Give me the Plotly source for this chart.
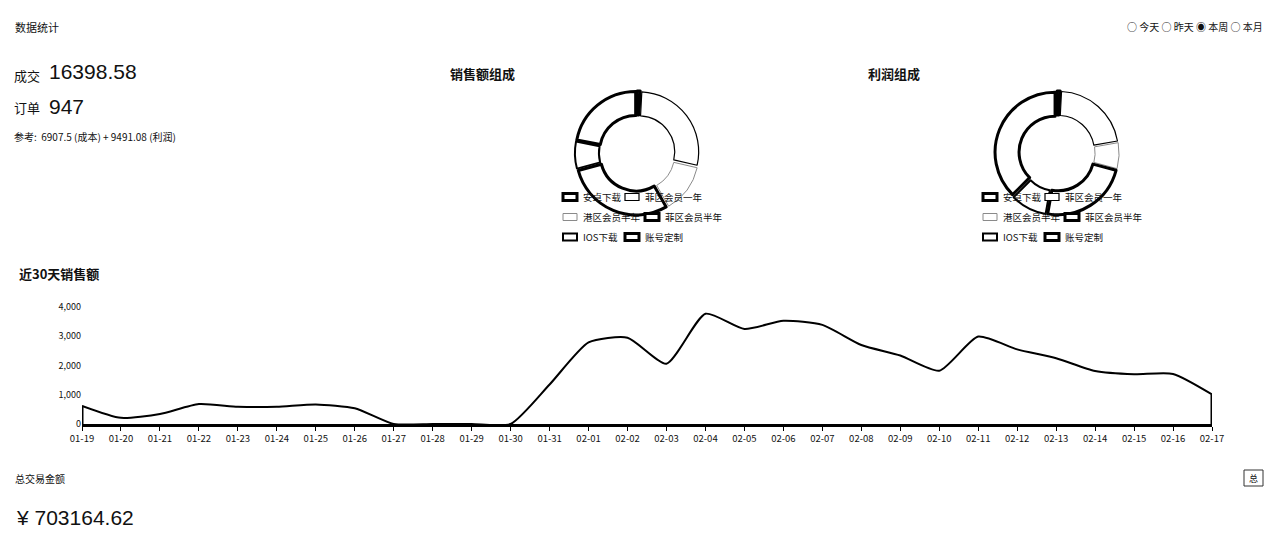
import plotly.graph_objects as go

W, H = 1280, 559

# ---------------- data ----------------
dates = ["01-19", "01-20", "01-21", "01-22", "01-23", "01-24", "01-25", "01-26", "01-27", "01-28",
         "01-29", "01-30", "01-31", "02-01", "02-02", "02-03", "02-04", "02-05", "02-06", "02-07",
         "02-08", "02-09", "02-10", "02-11", "02-12", "02-13", "02-14", "02-15", "02-16", "02-17"]
sales = [620, 210, 340, 680, 590, 590, 670, 540, 0, 0,
         0, 0, 1350, 2790, 2950, 2060, 3770, 3250, 3530, 3390,
         2700, 2340, 1820, 2990, 2550, 2250, 1810, 1700, 1710, 1010]
ytick_vals = [0, 1000, 2000, 3000, 4000]

pie_labels = ["安卓下载", "菲区会员一年", "港区会员半年", "菲区会员半年", "IOS下载", "账号定制"]
sales_parts = [137, 4555, 2141, 4783, 1184, 3598.58]
profit_parts = [79, 2030, 659, 2241, 923, 3559.08]

stat_total = "16398.58"
stat_orders = "947"
stat_ref = "参考:  6907.5 (成本) + 9491.08 (利润)"
grand_total = "¥ 703164.62"

FONT = "Noto Sans CJK SC"
NUMFONT = "Liberation Sans, Arial, sans-serif"


def px(x):
    return x / W


def py(y):
    return 1 - y / H


fig = go.Figure()

# ---------------- line chart ----------------
fig.add_trace(go.Scatter(
    x=dates, y=sales, mode="lines",
    line=dict(color="black", width=2, shape="spline", smoothing=0.6),
    fill="tozeroy", fillcolor="white",
    xaxis="x", yaxis="y", showlegend=False, hoverinfo="x+y"))
# vertical edges of the area at both ends
fig.add_trace(go.Scatter(
    x=[dates[0], dates[0], None, dates[-1], dates[-1]],
    y=[0, sales[0], None, sales[-1], 0],
    mode="lines", line=dict(color="black", width=3),
    xaxis="x", yaxis="y", showlegend=False, hoverinfo="skip"))

# ---------------- donuts ----------------
line_colors = ["black", "black", "#8a8a8a", "black", "black", "black"]
line_widths = [3, 1.2, 1, 3, 2, 3]
PULL = 0.035
R = 60 * (1 + PULL)

for vals, cx, nm in ((sales_parts, 637, "销售额组成"), (profit_parts, 1057, "利润组成")):
    fig.add_trace(go.Pie(
        labels=pie_labels, values=vals, hole=0.6, sort=False,
        direction="clockwise", rotation=0, textinfo="none", pull=[PULL] * 6,
        marker=dict(colors=["white"] * 6, line=dict(color=line_colors, width=line_widths)),
        domain=dict(x=[px(cx - R), px(cx + R)], y=[py(153 + R), py(153 - R)]),
        showlegend=False, name=nm))

annotations = []
shapes = []


def text(x, y, s, size, bold=False, anchor="left", color="#111", family=FONT):
    annotations.append(dict(
        x=px(x), y=py(y), xref="paper", yref="paper", text=("<b>%s</b>" % s) if bold else s,
        showarrow=False, xanchor=anchor, yanchor="middle", borderpad=0,
        font=dict(family=family, size=size, color=color)))


# header stats
text(14, 27, "数据统计", 11)
text(13, 75, "成交", 13)
text(48, 72, stat_total, 21, family=NUMFONT)
text(13, 108, "订单", 13)
text(48, 106, stat_orders, 21, family=NUMFONT)
text(13, 137, stat_ref, 10)
text(1264, 27, "○ 今天 ○ 昨天 ◉ 本周 ○ 本月", 10, anchor="right")

# donut titles
text(449, 74, "销售额组成", 13, bold=True)
text(867, 74, "利润组成", 13, bold=True)

# custom legends
rows_y = [197, 217, 237]
leg_items = [
    (0, 0, 563), (1, 0, 625),
    (2, 1, 563), (3, 1, 645),
    (4, 2, 563), (5, 2, 625),
]
for offset in (0, 420):
    for idx, row, ix in leg_items:
        x0 = ix + offset
        y0 = rows_y[row]
        shapes.append(dict(type="rect", xref="paper", yref="paper",
                           x0=px(x0), x1=px(x0 + 14), y0=py(y0 - 3.5), y1=py(y0 + 3.5),
                           line=dict(color=line_colors[idx], width=line_widths[idx]),
                           fillcolor="white", layer="above"))
        text(x0 + 19, y0, pie_labels[idx], 9.5)

# line chart title
text(18, 273, "近30天销售额", 13, bold=True)

# bottom section
text(14, 478, "总交易金额", 10)
text(15, 517, grand_total, 21, family=NUMFONT)
shapes.append(dict(type="rect", xref="paper", yref="paper",
                   x0=px(1244), x1=px(1263), y0=py(486), y1=py(470),
                   line=dict(color="#333", width=1), fillcolor="white"))
text(1253.5, 478, "总", 9, anchor="center")

fig.update_layout(
    width=W, height=H, margin=dict(l=0, r=0, t=0, b=0, autoexpand=False),
    paper_bgcolor="white", plot_bgcolor="white",
    font=dict(family=FONT, color="#111"),
    xaxis=dict(domain=[px(82), px(1212)], type="category", range=[0, len(dates) - 1],
               showgrid=False, showline=True, linecolor="black", linewidth=3,
               ticks="outside", ticklen=4, tickcolor="black", tickwidth=1,
               tickfont=dict(size=9.5, family=FONT), zeroline=False, fixedrange=True,
               automargin=False),
    yaxis=dict(domain=[py(424), py(424 - 4400 * 117 / 4000)], range=[0, 4400],
               tickvals=ytick_vals, tickformat=",d", showgrid=False, zeroline=False,
               showline=False, ticks="", tickfont=dict(size=9, family=FONT),
               fixedrange=True, automargin=False),
    annotations=annotations, shapes=shapes,
)

fig.write_html("out.html")
